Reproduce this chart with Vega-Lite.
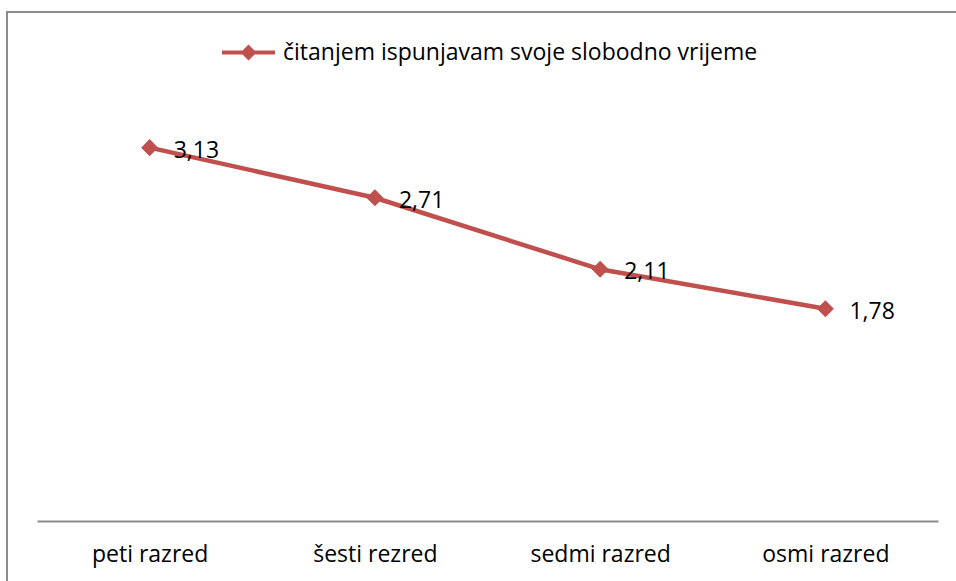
{
  "$schema": "https://vega.github.io/schema/vega-lite/v6.json",
  "autosize": "none",
  "width": 949,
  "height": 569,
  "padding": {"left": 7, "top": 12, "right": 0, "bottom": 0},
  "background": "white",
  "config": {
    "locale": {"number": {"decimal": ",", "thousands": ".", "grouping": [3], "currency": ["", " €"]}},
    "view": {"stroke": "#8c8c8c", "strokeWidth": 2, "strokeDash": [949, 1518, 569]},
    "font": "Open Sans"
  },
  "data": {
    "values": [
      {"razred": "peti razred", "value": 3.13, "series": "čitanjem ispunjavam svoje slobodno vrijeme"},
      {"razred": "šesti rezred", "value": 2.71, "series": "čitanjem ispunjavam svoje slobodno vrijeme"},
      {"razred": "sedmi razred", "value": 2.11, "series": "čitanjem ispunjavam svoje slobodno vrijeme"},
      {"razred": "osmi razred", "value": 1.78, "series": "čitanjem ispunjavam svoje slobodno vrijeme"}
    ]
  },
  "encoding": {
    "x": {
      "field": "razred", "type": "nominal", "sort": null,
      "scale": {"type": "point", "range": [30, 931], "padding": 0.5},
      "axis": {
        "title": null, "orient": "bottom", "offset": -60, "labelAngle": 0,
        "ticks": false, "grid": false,
        "domainColor": "#8c8c8c", "domainWidth": 2,
        "labelFont": "Open Sans", "labelFontSize": 23, "labelColor": "#000000",
        "labelPadding": 22
      }
    },
    "y": {
      "field": "value", "type": "quantitative",
      "scale": {"domain": [0, 3.5], "range": [509, 91.5], "nice": false, "zero": false},
      "axis": null
    }
  },
  "layer": [
    {
      "mark": {"type": "line", "color": "#C0504D", "strokeWidth": 4.5},
      "encoding": {}
    },
    {
      "mark": {"type": "point", "shape": "diamond", "filled": true, "opacity": 1, "size": 290, "color": "#C0504D"},
      "encoding": {
        "color": {
          "field": "series", "type": "nominal",
          "scale": {"range": ["#C0504D"]},
          "legend": {
            "title": null, "orient": "none", "legendX": 215, "legendY": 14,
            "padding": 0,
            "symbolType": "M-1,-0.08H1V0.08H-1Z M-0.3,0L0,-0.3L0.3,0L0,0.3Z",
            "symbolSize": 2809,
            "symbolFillColor": "#C0504D", "symbolStrokeColor": "#C0504D", "symbolStrokeWidth": 0,
            "symbolOpacity": 1,
            "labelFont": "Open Sans", "labelFontSize": 23, "labelColor": "#000000",
            "labelOffset": 8, "labelLimit": 800
          }
        }
      }
    },
    {
      "mark": {"type": "text", "align": "left", "baseline": "middle", "dx": 24, "dy": 3, "fontSize": 23, "font": "Open Sans", "color": "#000000"},
      "encoding": {
        "text": {"field": "value", "type": "quantitative", "format": ".2f"}
      }
    }
  ]
}
